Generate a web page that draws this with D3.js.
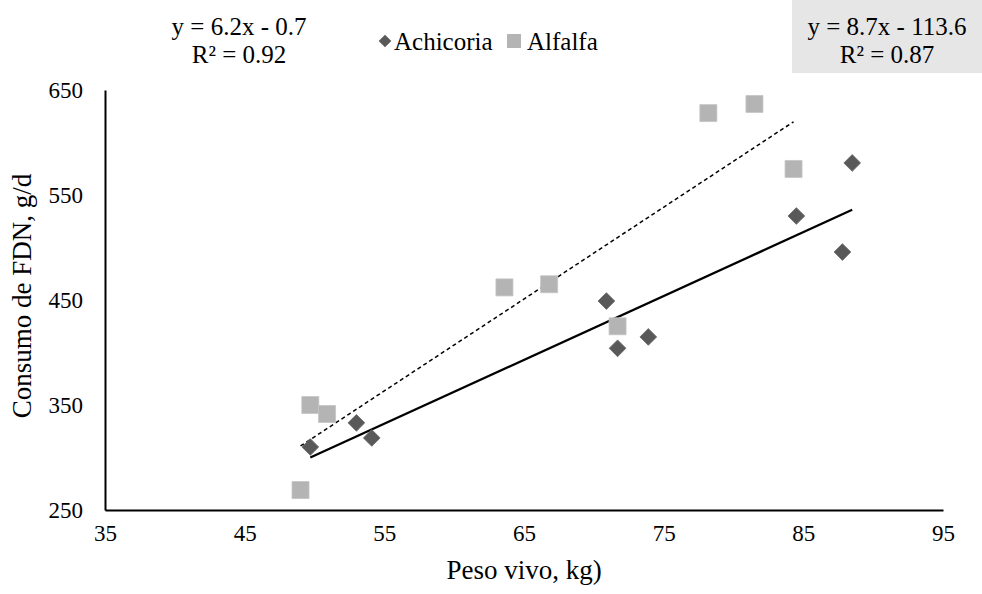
<!DOCTYPE html>
<html>
<head>
<meta charset="utf-8">
<script src="https://cdn.jsdelivr.net/npm/d3@7"></script>
<style>
  body { margin: 0; background: #fff; }
  text { font-family: "Liberation Serif", "Times New Roman", serif; fill: #000; }
</style>
</head>
<body>
<div id="chart"></div>
<script>
// Achicoria (diamonds)
var achX = [49.7, 53.0, 54.1, 70.9, 71.7, 73.9, 84.5, 87.8, 88.5];
var achY = [310, 333, 318.6, 449, 404, 414.8, 530, 495.7, 580.5];
// Alfalfa (squares)
var alfX = [49.0, 49.7, 50.9, 63.6, 66.8, 71.7, 78.2, 81.5, 84.3];
var alfY = [269, 350, 341.4, 462, 465, 425, 628, 636.7, 574.8];

var xTicks = [35, 45, 55, 65, 75, 85, 95];
var yTicks = [250, 350, 450, 550, 650];

var achEq = ["y = 6.2x - 0.7", "R² = 0.92"];
var alfEq = ["y = 8.7x - 113.6", "R² = 0.87"];

const SERIF = "'Liberation Serif', 'Times New Roman', serif";

var width = 982, height = 594;
var margin = { top: 90, right: 39, bottom: 84, left: 105 };

var svg = d3.select("#chart").append("svg")
    .attr("width", width)
    .attr("height", height)
    .style("display", "block");

var x = d3.scaleLinear().domain([35, 95]).range([margin.left, width - margin.right]);
var y = d3.scaleLinear().domain([250, 650]).range([height - margin.bottom, margin.top]);

// least squares fit, drawn over the range of the data
function fit(xs, ys) {
    var mx = d3.mean(xs), my = d3.mean(ys);
    var sxy = d3.sum(xs, (v, i) => (v - mx) * (ys[i] - my));
    var sxx = d3.sum(xs, v => (v - mx) * (v - mx));
    var b = sxy / sxx, a = my - b * mx;
    var x0 = d3.min(xs), x1 = d3.max(xs);
    return [[x0, a + b * x0], [x1, a + b * x1]];
}

var line = d3.line().x(d => x(d[0])).y(d => y(d[1]));

// axes, no tick marks
svg.append("g")
    .attr("transform", "translate(0," + y(250) + ")")
    .attr("font-family", SERIF)
    .call(d3.axisBottom(x).tickValues(xTicks).tickSize(0).tickPadding(15))
    .call(g => g.select(".domain").attr("stroke", "#000").attr("stroke-width", 2))
    .call(g => g.selectAll("text").attr("font-size", 23).attr("fill", "#000"));

svg.append("g")
    .attr("transform", "translate(" + x(35) + ",0)")
    .attr("font-family", SERIF)
    .call(d3.axisLeft(y).tickValues(yTicks).tickSize(0).tickPadding(22))
    .call(g => g.select(".domain").attr("stroke", "#000").attr("stroke-width", 2))
    .call(g => g.selectAll("text").attr("font-size", 23).attr("fill", "#000"));

// trendlines
svg.append("path")
    .datum(fit(alfX, alfY))
    .attr("d", line)
    .attr("fill", "none")
    .attr("stroke", "#000")
    .attr("stroke-width", 1.5)
    .attr("stroke-dasharray", "4,3");

svg.append("path")
    .datum(fit(achX, achY))
    .attr("d", line)
    .attr("fill", "none")
    .attr("stroke", "#000")
    .attr("stroke-width", 2.3);

var diamond = d3.symbol().type(d3.symbolSquare).size(140);
var square = d3.symbol().type(d3.symbolSquare).size(289);

svg.append("g").selectAll("path")
    .data(alfX.map((v, i) => [v, alfY[i]]))
    .enter().append("path")
    .attr("d", square)
    .attr("transform", d => "translate(" + x(d[0]) + "," + y(d[1]) + ")")
    .attr("fill", "#b4b4b4")
    .attr("stroke", "#c4c4c4")
    .attr("stroke-width", 0.8);

svg.append("g").selectAll("path")
    .data(achX.map((v, i) => [v, achY[i]]))
    .enter().append("path")
    .attr("d", diamond)
    .attr("transform", d => "translate(" + x(d[0]) + "," + y(d[1]) + ") rotate(45)")
    .attr("fill", "#595959")
    .attr("stroke", "#6a6a6a")
    .attr("stroke-width", 0.8);

// axis titles
svg.append("text")
    .attr("x", (x(35) + x(95)) / 2)
    .attr("y", 579)
    .attr("text-anchor", "middle")
    .attr("font-family", SERIF)
    .attr("font-size", 27)
    .text("Peso vivo, kg)");

svg.append("text")
    .attr("transform", "translate(31," + (y(450) - 4) + ") rotate(-90)")
    .attr("text-anchor", "middle")
    .attr("font-family", SERIF)
    .attr("font-size", 27)
    .text("Consumo de FDN, g/d");

// equation labels
svg.append("rect")
    .attr("x", 792).attr("y", 0)
    .attr("width", width - 792).attr("height", 73)
    .attr("fill", "#e6e6e6");

function eqLabel(lines, cx) {
    lines.forEach((t, i) => {
        svg.append("text")
            .attr("x", cx).attr("y", 35 + i * 28)
            .attr("text-anchor", "middle")
            .attr("font-family", SERIF)
            .attr("font-size", 25)
            .text(t);
    });
}
eqLabel(alfEq, 887);
eqLabel(achEq, 239);

// legend
var legend = svg.append("g").attr("transform", "translate(0,41)");
legend.append("path")
    .attr("d", d3.symbol().type(d3.symbolSquare).size(80))
    .attr("transform", "translate(385,0) rotate(45)")
    .attr("fill", "#595959");
legend.append("text")
    .attr("x", 394).attr("y", 0).attr("dy", "0.35em")
    .attr("font-family", SERIF)
    .attr("font-size", 25)
    .text("Achicoria");
legend.append("rect")
    .attr("x", 507).attr("y", -7)
    .attr("width", 14).attr("height", 14)
    .attr("fill", "#b4b4b4");
legend.append("text")
    .attr("x", 527).attr("y", 0).attr("dy", "0.35em")
    .attr("font-family", SERIF)
    .attr("font-size", 25)
    .text("Alfalfa");
</script>
</body>
</html>
